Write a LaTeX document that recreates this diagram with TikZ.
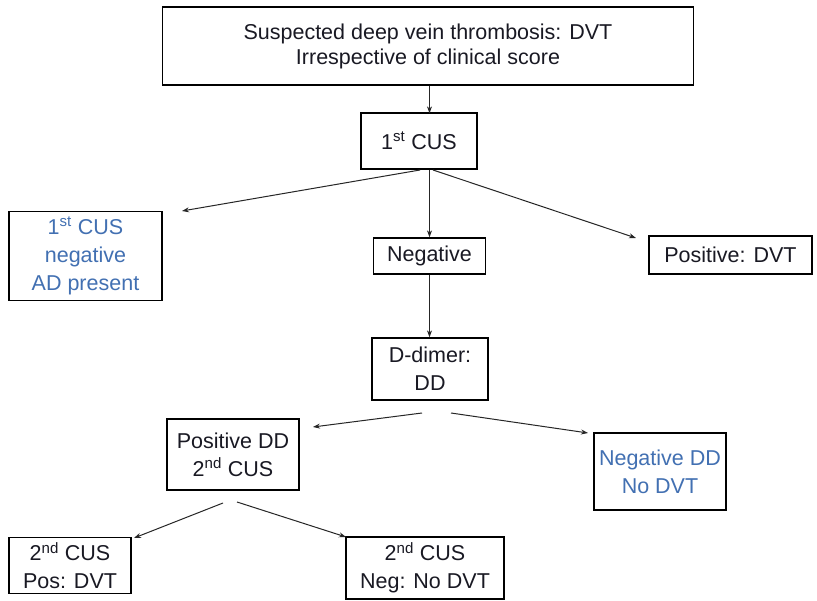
\documentclass[tikz,border=0pt]{standalone}
\usepackage{fontspec}
\setmainfont{Liberation Sans}
\usetikzlibrary{arrows.meta}
\definecolor{txtblue}{RGB}{66,112,178}
\definecolor{txtdark}{RGB}{25,25,35}
\begin{document}
\begin{tikzpicture}[x=1pt,y=-1pt,
  box/.style={draw=black, line width=1.3pt, inner sep=0pt, align=center,
    font=\fontsize{21.5}{28}\selectfont, text=txtdark},
  conn/.style={line width=1pt, draw=black!85, -{Stealth[length=7pt,width=5pt]}}]
\useasboundingbox (0,0) rectangle (817,601);
\fill[white] (0,0) rectangle (817,601);
% nodes
\node[box, minimum width=531pt, minimum height=78pt, align=center] (top) at (428,46)
  {\raisebox{-3pt}{Suspected deep vein thrombosis: DVT}\\[-3pt]\raisebox{-3pt}{Irrespective of clinical score}};
\node[box, minimum width=116pt, minimum height=56pt] (cus1) at (419,141) {1\textsuperscript{st} CUS};
\node[box, minimum width=153pt, minimum height=89pt, text=txtblue] (adp) at (85.5,256)
  {1\textsuperscript{st} CUS\\negative\\AD present};
\node[box, minimum width=112pt, minimum height=36pt] (neg) at (429.5,256) {Negative};
\node[box, minimum width=163pt, minimum height=38pt] (pos) at (730.5,255) {Positive: DVT};
\node[box, minimum width=116pt, minimum height=62pt] (dd) at (430,369) {D-dimer:\\DD};
\node[box, minimum width=132pt, minimum height=71pt] (posdd) at (233,454.5) {Positive DD\\2\textsuperscript{nd} CUS};
\node[box, minimum width=132pt, minimum height=77pt, text=txtblue] (negdd) at (660,471.5) {Negative DD\\No DVT};
\node[box, minimum width=122pt, minimum height=56pt] (cus2p) at (70,565.5) {2\textsuperscript{nd} CUS\\Pos: DVT};
\node[box, minimum width=158pt, minimum height=62pt] (cus2n) at (425,568) {2\textsuperscript{nd} CUS\\Neg: No DVT};
% free ends of connectors
\coordinate (c1l) at (420,170);
\coordinate (c1r) at (433,170);
\coordinate (adpe) at (182,211);
\coordinate (pose) at (636,238);
\coordinate (ddl) at (422,413);
\coordinate (ddr) at (451,413);
\coordinate (posdde) at (313,427);
\coordinate (negdde) at (588,433);
\coordinate (pl) at (223,503);
\coordinate (pr) at (237,502);
\coordinate (cus2pe) at (134,538);
\coordinate (cus2ne) at (346,537);
% connectors
\draw[conn] (top.south -| neg.north) -- ([yshift=-1pt]cus1.north -| neg.north);
\draw[conn] (c1l) -- (adpe);
\draw[conn] (cus1.south -| neg.north) -- (neg.north);
\draw[conn] (c1r) -- (pose);
\draw[conn] (neg.south) -- (neg.south |- dd.north);
\draw[conn] (ddl) -- (posdde);
\draw[conn] (ddr) -- (negdde);
\draw[conn] (pl) -- (cus2pe);
\draw[conn] (pr) -- (cus2ne);
\end{tikzpicture}
\end{document}
